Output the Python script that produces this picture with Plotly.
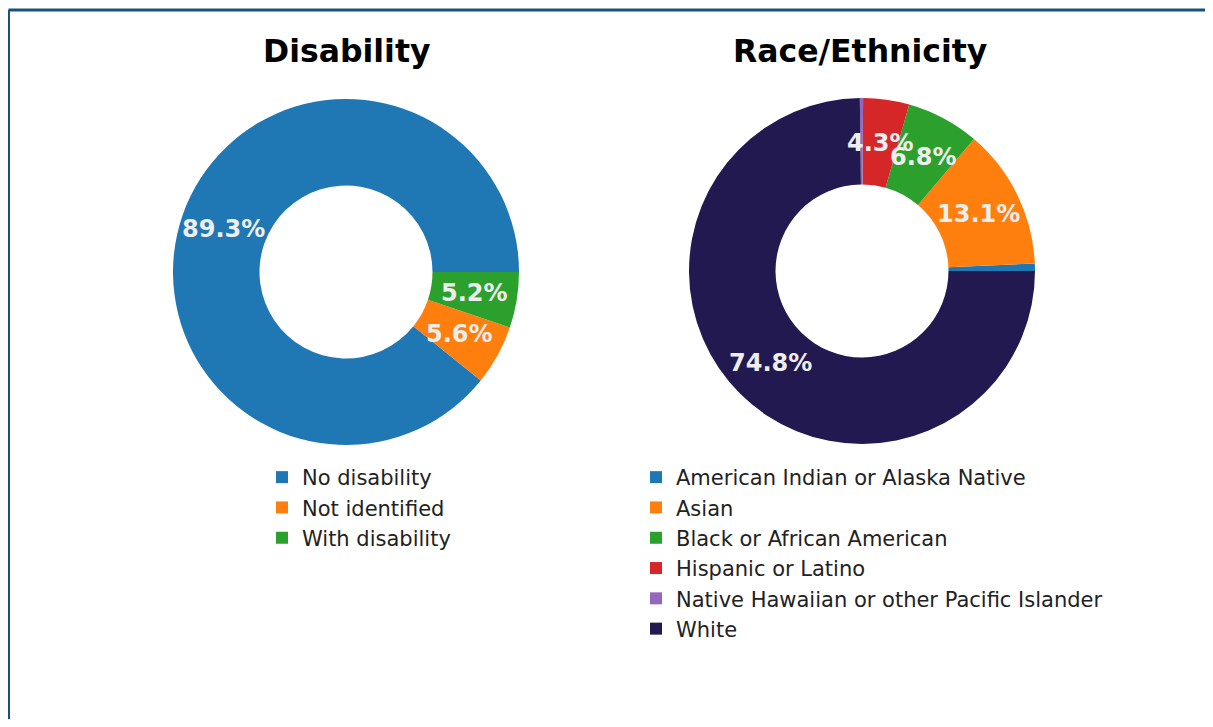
import math
import plotly.graph_objects as go

# ---- data ----
dis_labels = ["No disability", "Not identified", "With disability"]
dis_values = [89.3, 5.6, 5.2]
dis_colors = ["#1f77b4", "#ff7f0e", "#2ca02c"]

race_labels = ["American Indian or Alaska Native", "Asian", "Black or African American",
               "Hispanic or Latino", "Native Hawaiian or other Pacific Islander", "White"]
race_values = [0.7, 13.1, 6.8, 4.3, 0.3, 74.8]
race_colors = ["#1f77b4", "#ff7f0e", "#2ca02c", "#d62728", "#9467bd", "#231951"]

titles = ["Disability", "Race/Ethnicity"]

# ---- page geometry (browser body has an 8px margin) ----
PAGE_W, PAGE_H = 1213, 727
OFF = 8
FW, FH = PAGE_W - 2 * OFF, PAGE_H - 2 * OFF


def px(x):
    return (x - OFF) / FW


def py(y):
    return 1 - (y - OFF) / FH


def domain(cx, cy, r):
    return dict(x=[px(cx - r), px(cx + r)], y=[py(cy + r), py(cy - r)])


def start_rotation(vals):
    # first wedge starts at 3 o'clock and runs counter-clockwise (matplotlib style)
    rot = 90 - 360 * vals[0] / sum(vals)
    return ((rot + 180) % 360) - 180


def pct_annotations(vals, cx, cy, r, frac=0.75, thresh=1.0):
    total = sum(vals)
    anns = []
    cum = 0.0
    for v in vals:
        mid = 2 * math.pi * (cum + v / 2) / total
        cum += v
        if v < thresh:
            continue
        x = cx + frac * r * math.cos(mid)
        y = cy - frac * r * math.sin(mid)
        anns.append(dict(text=f"{v:.1f}%", x=px(x), y=py(y), xref="paper", yref="paper",
                         showarrow=False, xanchor="center", yanchor="middle",
                         font=dict(family="DejaVu Sans", size=24, color="#eeeeee", weight="bold")))
    return anns


DIS_C = (346, 272, 173)
RACE_C = (862, 271, 173)

fig = go.Figure()
fig.add_trace(go.Pie(
    labels=dis_labels, values=dis_values, textinfo="none",
    hole=0.5, sort=False, direction="counterclockwise", rotation=start_rotation(dis_values),
    marker=dict(colors=dis_colors), domain=domain(*DIS_C), legend="legend", showlegend=True,
))
fig.add_trace(go.Pie(
    labels=race_labels, values=race_values, textinfo="none",
    hole=0.5, sort=False, direction="counterclockwise", rotation=start_rotation(race_values),
    marker=dict(colors=race_colors), domain=domain(*RACE_C), legend="legend2", showlegend=True,
))

title_font = dict(family="DejaVu Sans", size=31.5, color="black", weight="bold")
annotations = [
    dict(text=titles[0], x=px(346), y=py(51), xref="paper", yref="paper",
         showarrow=False, xanchor="center", yanchor="middle", font=title_font),
    dict(text=titles[1], x=px(860), y=py(51), xref="paper", yref="paper",
         showarrow=False, xanchor="center", yanchor="middle", font=title_font),
]
annotations += pct_annotations(dis_values, *DIS_C)
annotations += pct_annotations(race_values, *RACE_C)

legend_font = dict(family="DejaVu Sans", size=21, color="#222222")
fig.update_layout(
    width=FW, height=FH,
    margin=dict(l=0, r=0, t=0, b=0),
    paper_bgcolor="white", plot_bgcolor="white",
    legend=dict(x=px(302 - 40), xanchor="left", y=py(457), yanchor="top",
                font=legend_font, bgcolor="rgba(0,0,0,0)"),
    legend2=dict(x=px(676 - 40), xanchor="left", y=py(457), yanchor="top",
                 font=legend_font, bgcolor="rgba(0,0,0,0)"),
    annotations=annotations,
    shapes=[
        dict(type="line", xref="paper", yref="paper", x0=px(8.5), x1=1, y0=py(10), y1=py(10),
             line=dict(color="#17527f", width=3)),
        dict(type="line", xref="paper", yref="paper", x0=px(8.5), x1=px(8.5), y0=0, y1=py(10),
             line=dict(color="#17527f", width=3)),
    ],
)

fig.write_html("out.html")
